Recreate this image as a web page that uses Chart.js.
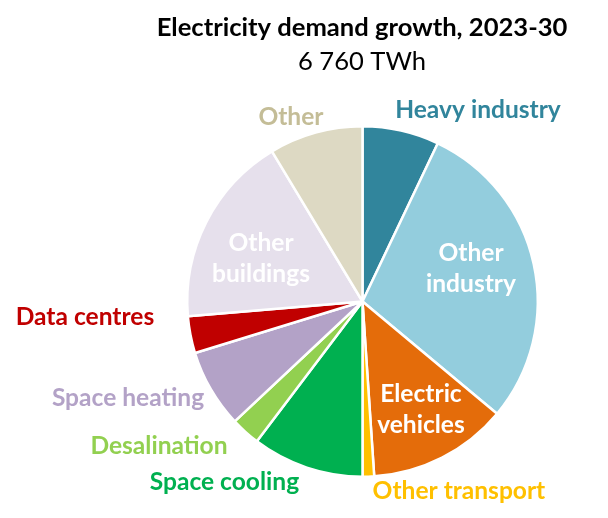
<!DOCTYPE html>
<html>
<head>
<meta charset="utf-8">
<script src="https://cdn.jsdelivr.net/npm/chart.js@4.4.0/dist/chart.umd.min.js"></script>
<style>
  html, body { margin: 0; padding: 0; background: #ffffff; }
  #wrap { width: 608px; height: 518px; position: relative; }
</style>
</head>
<body>
<div id="wrap"><canvas id="c"></canvas></div>
<script>
// ---- Data (TWh, electricity demand growth 2023-30) ----
const categories = ["Heavy industry", "Other industry", "Electric vehicles", "Other transport",
  "Space cooling", "Desalination", "Space heating", "Data centres", "Other buildings", "Other"];
const demandGrowthTWh = [478, 1960, 870, 72, 696, 183, 490, 230, 1197, 584];
const sliceColors = ["#31859C", "#93CDDD", "#E46C0A", "#FFC000", "#00B050",
  "#92D050", "#B3A2C7", "#C00000", "#E6E0EC", "#DDD9C3"];
const labelColors = ["#31859C", "#FFFFFF", "#FFFFFF", "#FFC000", "#00B050",
  "#92D050", "#B3A2C7", "#C00000", "#FFFFFF", "#C4BD97"];
const labelLines = [["Heavy industry"], ["Other", "industry"], ["Electric", "vehicles"], ["Other transport"],
  ["Space cooling"], ["Desalination"], ["Space heating"], ["Data centres"], ["Other", "buildings"], ["Other"]];
const chartTitle = "Electricity demand growth, 2023-30";
const chartSubtitle = "6 760 TWh";

// label placement relative to pie centre, in units of radius
const labelOffsets = [
  [0.66, -1.093], [0.62, -0.186], [0.334, 0.62], [0.551, 1.083],
  [-0.789, 1.03], [-1.163, 0.826], [-1.34, 0.551], [-1.586, 0.088],
  [-0.58, -0.243], [-0.409, -1.054]
];

const FONT = "Lato, 'Open Sans', sans-serif";

const labelPlugin = {
  id: 'labels',
  afterDraw(chart) {
    const ctx = chart.ctx;
    const arc = chart.getDatasetMeta(0).data[0];
    const cx = arc.x, cy = arc.y, r = 175;
    ctx.save();
    ctx.textAlign = 'center';
    ctx.textBaseline = 'middle';
    let size = 24;
    ctx.font = `bold ${size}px ${FONT}`;
    const w = ctx.measureText(chartTitle).width;
    size = size * 411 / w;
    ctx.fillStyle = '#000000';
    ctx.font = `bold ${size}px ${FONT}`;
    ctx.fillText(chartTitle, 362, 28);
    ctx.font = `${size}px ${FONT}`;
    ctx.fillText(chartSubtitle, 362, 62);
    ctx.font = `bold ${(size * 0.96).toFixed(2)}px ${FONT}`;
    labelLines.forEach((lines, i) => {
      const [ox, oy] = labelOffsets[i];
      const x = cx + ox * r, y = cy + oy * r;
      ctx.fillStyle = labelColors[i];
      const lh = 31;
      lines.forEach((t, k) => {
        ctx.fillText(t, x, y + (k - (lines.length - 1) / 2) * lh);
      });
    });
    ctx.restore();
  }
};

new Chart(document.getElementById('c'), {
  type: 'pie',
  data: {
    labels: categories,
    datasets: [{
      data: demandGrowthTWh,
      backgroundColor: sliceColors,
      borderColor: '#ffffff',
      borderWidth: 2.5
    }]
  },
  options: {
    responsive: true,
    maintainAspectRatio: false,
    animation: false,
    layout: { padding: { top: 125, bottom: 40, left: 186, right: 69 } },
    plugins: {
      legend: { display: false },
      tooltip: { enabled: false },
      title: { display: false }
    }
  },
  plugins: [labelPlugin]
});
</script>
</body>
</html>
